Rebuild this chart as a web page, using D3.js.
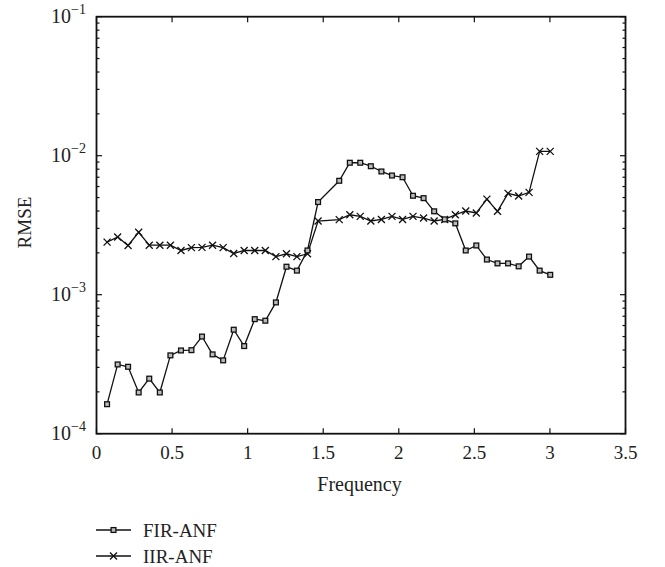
<!DOCTYPE html>
<html><head><meta charset="utf-8">
<script src="https://cdn.jsdelivr.net/npm/d3@7"></script>
<style>body{margin:0;background:#fff}svg{display:block}text{font-family:"Liberation Serif","Times New Roman",serif;fill:#222}</style>
</head><body><svg id="c" width="665" height="567"></svg>
<script>
const frequency = [0.070,0.140,0.209,0.279,0.349,0.419,0.489,0.559,0.628,0.698,0.768,0.838,0.908,0.977,1.047,1.117,1.187,1.257,1.326,1.396,1.466,1.606,1.676,1.745,1.815,1.885,1.955,2.025,2.094,2.164,2.234,2.304,2.374,2.443,2.513,2.583,2.653,2.723,2.793,2.862,2.932,3.002];
const firANF = [1.63e-4,3.15e-4,3.03e-4,1.98e-4,2.49e-4,1.98e-4,3.66e-4,3.97e-4,3.99e-4,5.0e-4,3.72e-4,3.37e-4,5.6e-4,4.27e-4,6.67e-4,6.5e-4,8.8e-4,1.59e-3,1.49e-3,2.08e-3,4.64e-3,6.6e-3,8.9e-3,8.9e-3,8.4e-3,7.7e-3,7.2e-3,7.0e-3,5.15e-3,4.95e-3,3.98e-3,3.48e-3,3.26e-3,2.08e-3,2.26e-3,1.79e-3,1.68e-3,1.68e-3,1.6e-3,1.88e-3,1.49e-3,1.39e-3];
const iirANF = [2.39e-3,2.6e-3,2.26e-3,2.81e-3,2.27e-3,2.27e-3,2.27e-3,2.08e-3,2.18e-3,2.19e-3,2.27e-3,2.18e-3,1.98e-3,2.08e-3,2.08e-3,2.08e-3,1.88e-3,1.97e-3,1.88e-3,1.97e-3,3.39e-3,3.47e-3,3.76e-3,3.66e-3,3.39e-3,3.48e-3,3.66e-3,3.48e-3,3.66e-3,3.56e-3,3.39e-3,3.48e-3,3.76e-3,4.0e-3,3.87e-3,4.87e-3,3.98e-3,5.36e-3,5.13e-3,5.45e-3,1.074e-2,1.074e-2];
const xTicks = [0,0.5,1,1.5,2,2.5,3,3.5];
const xTickLabels = ["0","0.5","1","1.5","2","2.5","3","3.5"];
const yMajor = [1e-4,1e-3,1e-2,1e-1];
const yExponents = ["−4","−3","−2","−1"];
const seriesNames = ["FIR-ANF","IIR-ANF"];

const svg = d3.select("#c");
const L=96.5, R=625.5, T=16.7, B=433.7;
const x = d3.scaleLinear().domain([0,3.5]).range([L,R]);
const y = d3.scaleLog().domain([1e-4,1e-1]).range([B,T]);

const minor = [];
for (let e=-4;e<-1;e++) for (let m=2;m<=9;m++) minor.push(m*Math.pow(10,e));

const g = svg.append("g");
// ticks
const tk = g.append("g").attr("stroke","#111").attr("stroke-width",1.2);
xTicks.forEach(v=>{
  tk.append("line").attr("x1",x(v)).attr("x2",x(v)).attr("y1",B).attr("y2",B-5.5);
  tk.append("line").attr("x1",x(v)).attr("x2",x(v)).attr("y1",T).attr("y2",T+5.5);
});
yMajor.forEach(v=>{
  tk.append("line").attr("x1",L).attr("x2",L+5.5).attr("y1",y(v)).attr("y2",y(v));
  tk.append("line").attr("x1",R).attr("x2",R-5.5).attr("y1",y(v)).attr("y2",y(v));
});
minor.forEach(v=>{
  tk.append("line").attr("x1",L).attr("x2",L+3).attr("y1",y(v)).attr("y2",y(v));
  tk.append("line").attr("x1",R).attr("x2",R-3).attr("y1",y(v)).attr("y2",y(v));
});
// frame
g.append("rect").attr("x",L).attr("y",T).attr("width",R-L).attr("height",B-T)
  .attr("fill","none").attr("stroke","#111").attr("stroke-width",1.8);

// x tick labels
xTicks.forEach((v,i)=>{
  g.append("text").attr("x",x(v)).attr("y",459).attr("text-anchor","middle")
   .attr("font-size",19).text(xTickLabels[i]);
});
// y tick labels
yMajor.forEach((v,i)=>{
  const t = g.append("text").attr("x",86).attr("y",y(v)+6.5).attr("text-anchor","end").attr("font-size",20);
  t.append("tspan").text("10");
  t.append("tspan").attr("font-size",14).attr("dy",-9).text(yExponents[i]);
});
g.append("text").attr("x",359.5).attr("y",490.5).attr("text-anchor","middle").attr("font-size",20).text("Frequency");
g.append("text").attr("transform","translate(31,222.5) rotate(-90)").attr("text-anchor","middle").attr("font-size",19).text("RMSE");

const line = d3.line().x(d=>x(d[0])).y(d=>y(d[1]));
const firData = frequency.map((f,i)=>[f,firANF[i]]);
const iirData = frequency.map((f,i)=>[f,iirANF[i]]);

function drawSquare(sel, cx, cy){
  sel.append("rect").attr("x",cx-2.4).attr("y",cy-2.4).attr("width",4.8).attr("height",4.8)
    .attr("fill","#bbb").attr("stroke","#111").attr("stroke-width",1.3);
}
function drawX(sel, cx, cy){
  const s=3.5;
  sel.append("path").attr("d",`M${cx-s},${cy-s}L${cx+s},${cy+s}M${cx-s},${cy+s}L${cx+s},${cy-s}`)
    .attr("stroke","#111").attr("stroke-width",1.3).attr("fill","none");
}
g.append("path").datum(iirData).attr("d",line).attr("fill","none").attr("stroke","#111").attr("stroke-width",1.3);
g.append("path").datum(firData).attr("d",line).attr("fill","none").attr("stroke","#111").attr("stroke-width",1.3);
const mk = g.append("g");
iirData.forEach(d=>drawX(mk,x(d[0]),y(d[1])));
firData.forEach(d=>drawSquare(mk,x(d[0]),y(d[1])));

// legend
const lg = g.append("g");
[530,556].forEach((ly,i)=>{
  lg.append("line").attr("x1",96).attr("x2",131).attr("y1",ly).attr("y2",ly).attr("stroke","#111").attr("stroke-width",1.3);
  if(i===0) drawSquare(lg,113.5,ly); else drawX(lg,113.5,ly);
  lg.append("text").attr("x",143).attr("y",ly+6.5).attr("font-size",19).text(seriesNames[i]);
});
</script></body></html>
